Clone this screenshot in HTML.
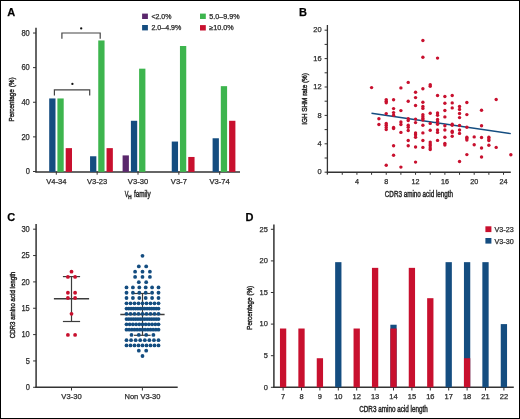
<!DOCTYPE html>
<html><head><meta charset="utf-8"><style>
html,body{margin:0;padding:0;background:#fff;}
body{width:520px;height:419px;overflow:hidden;}
svg{display:block;font-family:"Liberation Sans",sans-serif;}
text{stroke:#2a2a2a;stroke-width:0.25px;paint-order:stroke;}
.t{stroke-width:0.45px;}
svg{will-change:transform;}
</style></head><body>
<svg width="520" height="419" viewBox="0 0 520 419">
<rect x="0" y="0" width="520" height="419" fill="#fff"/>
<text x="7.20" y="16.30" font-size="11" text-anchor="start" font-weight="bold" fill="#000">A</text>
<line x1="36.00" y1="27.70" x2="36.00" y2="172.20" stroke="#333333" stroke-width="1.5"/>
<line x1="33.00" y1="171.50" x2="36.00" y2="171.50" stroke="#333333" stroke-width="1.0"/>
<text x="29.80" y="174.30" font-size="8.2" text-anchor="end" font-weight="normal" fill="#2a2a2a" textLength="4.17" lengthAdjust="spacingAndGlyphs">0</text>
<line x1="33.00" y1="136.88" x2="36.00" y2="136.88" stroke="#333333" stroke-width="1.0"/>
<text x="29.80" y="139.68" font-size="8.2" text-anchor="end" font-weight="normal" fill="#2a2a2a" textLength="8.35" lengthAdjust="spacingAndGlyphs">20</text>
<line x1="33.00" y1="102.26" x2="36.00" y2="102.26" stroke="#333333" stroke-width="1.0"/>
<text x="29.80" y="105.06" font-size="8.2" text-anchor="end" font-weight="normal" fill="#2a2a2a" textLength="8.35" lengthAdjust="spacingAndGlyphs">40</text>
<line x1="33.00" y1="67.64" x2="36.00" y2="67.64" stroke="#333333" stroke-width="1.0"/>
<text x="29.80" y="70.44" font-size="8.2" text-anchor="end" font-weight="normal" fill="#2a2a2a" textLength="8.35" lengthAdjust="spacingAndGlyphs">60</text>
<line x1="33.00" y1="33.02" x2="36.00" y2="33.02" stroke="#333333" stroke-width="1.0"/>
<text x="29.80" y="35.82" font-size="8.2" text-anchor="end" font-weight="normal" fill="#2a2a2a" textLength="8.35" lengthAdjust="spacingAndGlyphs">80</text>
<line x1="35.30" y1="171.90" x2="240.00" y2="171.90" stroke="#333333" stroke-width="1.5"/>
<rect x="49.20" y="98.45" width="6.30" height="73.45" fill="#144d80"/>
<rect x="57.40" y="98.45" width="6.30" height="73.45" fill="#3db54e"/>
<rect x="65.70" y="148.13" width="6.30" height="23.77" fill="#c8102e"/>
<line x1="56.30" y1="171.50" x2="56.30" y2="174.70" stroke="#333333" stroke-width="1.0"/>
<text x="56.30" y="184.40" font-size="7.6" text-anchor="middle" font-weight="normal" fill="#2a2a2a" textLength="20.28" lengthAdjust="spacingAndGlyphs">V4-34</text>
<rect x="90.05" y="156.27" width="6.30" height="15.63" fill="#144d80"/>
<rect x="98.25" y="40.46" width="6.30" height="131.44" fill="#3db54e"/>
<rect x="106.55" y="148.13" width="6.30" height="23.77" fill="#c8102e"/>
<line x1="97.15" y1="171.50" x2="97.15" y2="174.70" stroke="#333333" stroke-width="1.0"/>
<text x="97.15" y="184.40" font-size="7.6" text-anchor="middle" font-weight="normal" fill="#2a2a2a" textLength="20.28" lengthAdjust="spacingAndGlyphs">V3-23</text>
<rect x="122.60" y="155.40" width="6.30" height="16.50" fill="#5a276c"/>
<rect x="130.90" y="120.78" width="6.30" height="51.12" fill="#144d80"/>
<rect x="139.10" y="68.68" width="6.30" height="103.22" fill="#3db54e"/>
<line x1="138.00" y1="171.50" x2="138.00" y2="174.70" stroke="#333333" stroke-width="1.0"/>
<text x="138.00" y="184.40" font-size="7.6" text-anchor="middle" font-weight="normal" fill="#2a2a2a" textLength="20.28" lengthAdjust="spacingAndGlyphs">V3-30</text>
<rect x="171.75" y="141.55" width="6.30" height="30.35" fill="#144d80"/>
<rect x="179.95" y="46.00" width="6.30" height="125.90" fill="#3db54e"/>
<rect x="188.25" y="156.96" width="6.30" height="14.94" fill="#c8102e"/>
<line x1="178.85" y1="171.50" x2="178.85" y2="174.70" stroke="#333333" stroke-width="1.0"/>
<text x="178.85" y="184.40" font-size="7.6" text-anchor="middle" font-weight="normal" fill="#2a2a2a" textLength="16.05" lengthAdjust="spacingAndGlyphs">V3-7</text>
<rect x="212.60" y="138.26" width="6.30" height="33.64" fill="#144d80"/>
<rect x="220.80" y="86.16" width="6.30" height="85.74" fill="#3db54e"/>
<rect x="229.10" y="120.78" width="6.30" height="51.12" fill="#c8102e"/>
<line x1="219.70" y1="171.50" x2="219.70" y2="174.70" stroke="#333333" stroke-width="1.0"/>
<text x="219.70" y="184.40" font-size="7.6" text-anchor="middle" font-weight="normal" fill="#2a2a2a" textLength="20.28" lengthAdjust="spacingAndGlyphs">V3-74</text>
<path d="M61.90,38.80 V33.00 H100.20 V38.80" fill="none" stroke="#444" stroke-width="1.2"/>
<path d="M54.40,95.40 V89.90 H89.70 V95.40" fill="none" stroke="#444" stroke-width="1.2"/>
<circle cx="81.20" cy="28.40" r="1.15" fill="#111"/>
<circle cx="72.40" cy="83.90" r="1.15" fill="#111"/>
<text class="t" transform="translate(14.30,99.50) rotate(-90)" x="0" y="0" font-size="7.6" text-anchor="middle" fill="#2a2a2a" textLength="44.00" lengthAdjust="spacingAndGlyphs">Percentage (%)</text>
<text x="124.80" y="197.10" font-size="8.6" text-anchor="start" font-weight="normal" fill="#2a2a2a" textLength="3.70" lengthAdjust="spacingAndGlyphs" class="t">V</text>
<text x="128.30" y="199.00" font-size="5" text-anchor="start" font-weight="normal" fill="#2a2a2a" textLength="3.30" lengthAdjust="spacingAndGlyphs" class="t">H</text>
<text x="134.00" y="197.10" font-size="8.6" text-anchor="start" font-weight="normal" fill="#2a2a2a" textLength="16.60" lengthAdjust="spacingAndGlyphs" class="t">family</text>
<rect x="142.10" y="13.60" width="5.80" height="5.40" fill="#5a276c"/>
<text x="151.40" y="18.70" font-size="6.8" text-anchor="start" font-weight="normal" fill="#2a2a2a" textLength="20.00" lengthAdjust="spacingAndGlyphs">&lt;2.0%</text>
<rect x="142.10" y="25.00" width="5.80" height="5.40" fill="#144d80"/>
<text x="151.40" y="30.10" font-size="6.8" text-anchor="start" font-weight="normal" fill="#2a2a2a" textLength="30.00" lengthAdjust="spacingAndGlyphs">2.0–4.9%</text>
<rect x="200.00" y="13.60" width="5.80" height="5.40" fill="#3db54e"/>
<text x="209.30" y="18.70" font-size="6.8" text-anchor="start" font-weight="normal" fill="#2a2a2a" textLength="30.40" lengthAdjust="spacingAndGlyphs">5.0–9.9%</text>
<rect x="200.00" y="25.10" width="5.80" height="5.40" fill="#c8102e"/>
<text x="209.30" y="30.20" font-size="6.8" text-anchor="start" font-weight="normal" fill="#2a2a2a" textLength="24.50" lengthAdjust="spacingAndGlyphs">≥10.0%</text>
<text x="299.00" y="16.30" font-size="11" text-anchor="start" font-weight="bold" fill="#000">B</text>
<line x1="327.40" y1="25.00" x2="327.40" y2="174.60" stroke="#333333" stroke-width="1.3"/>
<line x1="324.60" y1="172.20" x2="327.60" y2="172.20" stroke="#333333" stroke-width="1.0"/>
<text x="321.60" y="174.30" font-size="7.8" text-anchor="end" font-weight="normal" fill="#2a2a2a" textLength="4.16" lengthAdjust="spacingAndGlyphs">0</text>
<line x1="324.60" y1="158.00" x2="327.60" y2="158.00" stroke="#333333" stroke-width="1.0"/>
<line x1="324.60" y1="143.80" x2="327.60" y2="143.80" stroke="#333333" stroke-width="1.0"/>
<text x="321.60" y="145.90" font-size="7.8" text-anchor="end" font-weight="normal" fill="#2a2a2a" textLength="4.16" lengthAdjust="spacingAndGlyphs">4</text>
<line x1="324.60" y1="129.60" x2="327.60" y2="129.60" stroke="#333333" stroke-width="1.0"/>
<line x1="324.60" y1="115.40" x2="327.60" y2="115.40" stroke="#333333" stroke-width="1.0"/>
<text x="321.60" y="117.50" font-size="7.8" text-anchor="end" font-weight="normal" fill="#2a2a2a" textLength="4.16" lengthAdjust="spacingAndGlyphs">8</text>
<line x1="324.60" y1="101.20" x2="327.60" y2="101.20" stroke="#333333" stroke-width="1.0"/>
<line x1="324.60" y1="87.00" x2="327.60" y2="87.00" stroke="#333333" stroke-width="1.0"/>
<text x="321.60" y="89.10" font-size="7.8" text-anchor="end" font-weight="normal" fill="#2a2a2a" textLength="8.33" lengthAdjust="spacingAndGlyphs">12</text>
<line x1="324.60" y1="72.80" x2="327.60" y2="72.80" stroke="#333333" stroke-width="1.0"/>
<line x1="324.60" y1="58.60" x2="327.60" y2="58.60" stroke="#333333" stroke-width="1.0"/>
<text x="321.60" y="60.70" font-size="7.8" text-anchor="end" font-weight="normal" fill="#2a2a2a" textLength="8.33" lengthAdjust="spacingAndGlyphs">16</text>
<line x1="324.60" y1="44.40" x2="327.60" y2="44.40" stroke="#333333" stroke-width="1.0"/>
<line x1="324.60" y1="30.20" x2="327.60" y2="30.20" stroke="#333333" stroke-width="1.0"/>
<text x="321.60" y="32.30" font-size="7.8" text-anchor="end" font-weight="normal" fill="#2a2a2a" textLength="8.33" lengthAdjust="spacingAndGlyphs">20</text>
<line x1="326.80" y1="172.20" x2="510.80" y2="172.20" stroke="#333333" stroke-width="1.5"/>
<line x1="342.26" y1="172.20" x2="342.26" y2="174.80" stroke="#333333" stroke-width="1.0"/>
<line x1="356.92" y1="172.20" x2="356.92" y2="174.80" stroke="#333333" stroke-width="1.0"/>
<text x="356.92" y="183.90" font-size="7.2" text-anchor="middle" font-weight="normal" fill="#2a2a2a" textLength="4.00" lengthAdjust="spacingAndGlyphs">4</text>
<line x1="371.58" y1="172.20" x2="371.58" y2="174.80" stroke="#333333" stroke-width="1.0"/>
<line x1="386.24" y1="172.20" x2="386.24" y2="174.80" stroke="#333333" stroke-width="1.0"/>
<text x="386.24" y="183.90" font-size="7.2" text-anchor="middle" font-weight="normal" fill="#2a2a2a" textLength="4.00" lengthAdjust="spacingAndGlyphs">8</text>
<line x1="400.90" y1="172.20" x2="400.90" y2="174.80" stroke="#333333" stroke-width="1.0"/>
<line x1="415.56" y1="172.20" x2="415.56" y2="174.80" stroke="#333333" stroke-width="1.0"/>
<text x="415.56" y="183.90" font-size="7.2" text-anchor="middle" font-weight="normal" fill="#2a2a2a" textLength="8.01" lengthAdjust="spacingAndGlyphs">12</text>
<line x1="430.22" y1="172.20" x2="430.22" y2="174.80" stroke="#333333" stroke-width="1.0"/>
<line x1="444.88" y1="172.20" x2="444.88" y2="174.80" stroke="#333333" stroke-width="1.0"/>
<text x="444.88" y="183.90" font-size="7.2" text-anchor="middle" font-weight="normal" fill="#2a2a2a" textLength="8.01" lengthAdjust="spacingAndGlyphs">16</text>
<line x1="459.54" y1="172.20" x2="459.54" y2="174.80" stroke="#333333" stroke-width="1.0"/>
<line x1="474.20" y1="172.20" x2="474.20" y2="174.80" stroke="#333333" stroke-width="1.0"/>
<text x="474.20" y="183.90" font-size="7.2" text-anchor="middle" font-weight="normal" fill="#2a2a2a" textLength="8.01" lengthAdjust="spacingAndGlyphs">20</text>
<line x1="488.86" y1="172.20" x2="488.86" y2="174.80" stroke="#333333" stroke-width="1.0"/>
<line x1="503.52" y1="172.20" x2="503.52" y2="174.80" stroke="#333333" stroke-width="1.0"/>
<text x="503.52" y="183.90" font-size="7.2" text-anchor="middle" font-weight="normal" fill="#2a2a2a" textLength="8.01" lengthAdjust="spacingAndGlyphs">24</text>
<text class="t" transform="translate(307.20,99.00) rotate(-90)" x="0" y="0" font-size="7.4" text-anchor="middle" fill="#2a2a2a" textLength="51.70" lengthAdjust="spacingAndGlyphs">IGH SHM rate (%)</text>
<text x="384.80" y="197.20" font-size="8.6" text-anchor="start" font-weight="normal" fill="#2a2a2a" textLength="68.30" lengthAdjust="spacingAndGlyphs" class="t">CDR3 amino acid length</text>
<line x1="371.50" y1="113.20" x2="510.80" y2="133.60" stroke="#144d80" stroke-width="1.4"/>
<circle cx="371.58" cy="87.60" r="1.7" fill="#c8102e"/>
<circle cx="378.91" cy="118.80" r="1.7" fill="#c8102e"/>
<circle cx="378.91" cy="124.50" r="1.7" fill="#c8102e"/>
<circle cx="386.24" cy="99.60" r="1.7" fill="#c8102e"/>
<circle cx="386.24" cy="101.20" r="1.7" fill="#c8102e"/>
<circle cx="386.24" cy="102.70" r="1.7" fill="#c8102e"/>
<circle cx="386.24" cy="113.60" r="1.7" fill="#c8102e"/>
<circle cx="386.24" cy="123.40" r="1.7" fill="#c8102e"/>
<circle cx="386.24" cy="125.30" r="1.7" fill="#c8102e"/>
<circle cx="386.24" cy="127.40" r="1.7" fill="#c8102e"/>
<circle cx="386.24" cy="129.60" r="1.7" fill="#c8102e"/>
<circle cx="386.24" cy="165.20" r="1.7" fill="#c8102e"/>
<circle cx="393.57" cy="99.80" r="1.7" fill="#c8102e"/>
<circle cx="393.57" cy="108.60" r="1.7" fill="#c8102e"/>
<circle cx="393.57" cy="112.60" r="1.7" fill="#c8102e"/>
<circle cx="393.57" cy="115.30" r="1.7" fill="#c8102e"/>
<circle cx="393.57" cy="127.40" r="1.7" fill="#c8102e"/>
<circle cx="393.57" cy="128.60" r="1.7" fill="#c8102e"/>
<circle cx="393.57" cy="145.70" r="1.7" fill="#c8102e"/>
<circle cx="393.57" cy="155.30" r="1.7" fill="#c8102e"/>
<circle cx="400.90" cy="87.90" r="1.7" fill="#c8102e"/>
<circle cx="400.90" cy="110.60" r="1.7" fill="#c8102e"/>
<circle cx="400.90" cy="121.90" r="1.7" fill="#c8102e"/>
<circle cx="400.90" cy="124.50" r="1.7" fill="#c8102e"/>
<circle cx="400.90" cy="132.40" r="1.7" fill="#c8102e"/>
<circle cx="400.90" cy="167.10" r="1.7" fill="#c8102e"/>
<circle cx="408.23" cy="82.40" r="1.7" fill="#c8102e"/>
<circle cx="408.23" cy="101.30" r="1.7" fill="#c8102e"/>
<circle cx="408.23" cy="118.60" r="1.7" fill="#c8102e"/>
<circle cx="408.23" cy="120.50" r="1.7" fill="#c8102e"/>
<circle cx="408.23" cy="125.30" r="1.7" fill="#c8102e"/>
<circle cx="408.23" cy="127.20" r="1.7" fill="#c8102e"/>
<circle cx="408.23" cy="130.50" r="1.7" fill="#c8102e"/>
<circle cx="408.23" cy="140.50" r="1.7" fill="#c8102e"/>
<circle cx="408.23" cy="145.70" r="1.7" fill="#c8102e"/>
<circle cx="415.56" cy="92.20" r="1.7" fill="#c8102e"/>
<circle cx="415.56" cy="97.60" r="1.7" fill="#c8102e"/>
<circle cx="415.56" cy="105.50" r="1.7" fill="#c8102e"/>
<circle cx="415.56" cy="119.10" r="1.7" fill="#c8102e"/>
<circle cx="415.56" cy="122.60" r="1.7" fill="#c8102e"/>
<circle cx="415.56" cy="132.90" r="1.7" fill="#c8102e"/>
<circle cx="415.56" cy="134.80" r="1.7" fill="#c8102e"/>
<circle cx="415.56" cy="137.20" r="1.7" fill="#c8102e"/>
<circle cx="415.56" cy="147.00" r="1.7" fill="#c8102e"/>
<circle cx="415.56" cy="162.10" r="1.7" fill="#c8102e"/>
<circle cx="422.89" cy="40.50" r="1.7" fill="#c8102e"/>
<circle cx="422.89" cy="57.20" r="1.7" fill="#c8102e"/>
<circle cx="422.89" cy="88.80" r="1.7" fill="#c8102e"/>
<circle cx="422.89" cy="102.20" r="1.7" fill="#c8102e"/>
<circle cx="422.89" cy="106.50" r="1.7" fill="#c8102e"/>
<circle cx="422.89" cy="108.40" r="1.7" fill="#c8102e"/>
<circle cx="422.89" cy="114.70" r="1.7" fill="#c8102e"/>
<circle cx="422.89" cy="116.70" r="1.7" fill="#c8102e"/>
<circle cx="422.89" cy="118.60" r="1.7" fill="#c8102e"/>
<circle cx="422.89" cy="120.00" r="1.7" fill="#c8102e"/>
<circle cx="422.89" cy="125.30" r="1.7" fill="#c8102e"/>
<circle cx="422.89" cy="132.90" r="1.7" fill="#c8102e"/>
<circle cx="422.89" cy="140.50" r="1.7" fill="#c8102e"/>
<circle cx="422.89" cy="147.40" r="1.7" fill="#c8102e"/>
<circle cx="430.22" cy="84.80" r="1.7" fill="#c8102e"/>
<circle cx="430.22" cy="86.20" r="1.7" fill="#c8102e"/>
<circle cx="430.22" cy="113.20" r="1.7" fill="#c8102e"/>
<circle cx="430.22" cy="123.40" r="1.7" fill="#c8102e"/>
<circle cx="430.22" cy="130.20" r="1.7" fill="#c8102e"/>
<circle cx="430.22" cy="142.10" r="1.7" fill="#c8102e"/>
<circle cx="430.22" cy="143.90" r="1.7" fill="#c8102e"/>
<circle cx="430.22" cy="145.80" r="1.7" fill="#c8102e"/>
<circle cx="430.22" cy="147.90" r="1.7" fill="#c8102e"/>
<circle cx="430.22" cy="149.60" r="1.7" fill="#c8102e"/>
<circle cx="437.55" cy="58.10" r="1.7" fill="#c8102e"/>
<circle cx="437.55" cy="95.50" r="1.7" fill="#c8102e"/>
<circle cx="437.55" cy="113.00" r="1.7" fill="#c8102e"/>
<circle cx="437.55" cy="115.30" r="1.7" fill="#c8102e"/>
<circle cx="437.55" cy="119.50" r="1.7" fill="#c8102e"/>
<circle cx="437.55" cy="121.50" r="1.7" fill="#c8102e"/>
<circle cx="437.55" cy="124.30" r="1.7" fill="#c8102e"/>
<circle cx="437.55" cy="130.00" r="1.7" fill="#c8102e"/>
<circle cx="437.55" cy="132.40" r="1.7" fill="#c8102e"/>
<circle cx="437.55" cy="140.40" r="1.7" fill="#c8102e"/>
<circle cx="444.88" cy="96.50" r="1.7" fill="#c8102e"/>
<circle cx="444.88" cy="103.20" r="1.7" fill="#c8102e"/>
<circle cx="444.88" cy="110.50" r="1.7" fill="#c8102e"/>
<circle cx="444.88" cy="116.90" r="1.7" fill="#c8102e"/>
<circle cx="444.88" cy="125.80" r="1.7" fill="#c8102e"/>
<circle cx="444.88" cy="130.00" r="1.7" fill="#c8102e"/>
<circle cx="444.88" cy="137.20" r="1.7" fill="#c8102e"/>
<circle cx="444.88" cy="143.50" r="1.7" fill="#c8102e"/>
<circle cx="444.88" cy="145.00" r="1.7" fill="#c8102e"/>
<circle cx="452.21" cy="95.50" r="1.7" fill="#c8102e"/>
<circle cx="452.21" cy="102.90" r="1.7" fill="#c8102e"/>
<circle cx="452.21" cy="107.90" r="1.7" fill="#c8102e"/>
<circle cx="452.21" cy="124.30" r="1.7" fill="#c8102e"/>
<circle cx="452.21" cy="125.30" r="1.7" fill="#c8102e"/>
<circle cx="452.21" cy="131.20" r="1.7" fill="#c8102e"/>
<circle cx="452.21" cy="132.40" r="1.7" fill="#c8102e"/>
<circle cx="452.21" cy="136.30" r="1.7" fill="#c8102e"/>
<circle cx="459.54" cy="106.50" r="1.7" fill="#c8102e"/>
<circle cx="459.54" cy="109.40" r="1.7" fill="#c8102e"/>
<circle cx="459.54" cy="113.50" r="1.7" fill="#c8102e"/>
<circle cx="459.54" cy="117.60" r="1.7" fill="#c8102e"/>
<circle cx="459.54" cy="125.50" r="1.7" fill="#c8102e"/>
<circle cx="459.54" cy="130.00" r="1.7" fill="#c8102e"/>
<circle cx="459.54" cy="133.40" r="1.7" fill="#c8102e"/>
<circle cx="459.54" cy="161.50" r="1.7" fill="#c8102e"/>
<circle cx="466.87" cy="102.50" r="1.7" fill="#c8102e"/>
<circle cx="466.87" cy="114.60" r="1.7" fill="#c8102e"/>
<circle cx="466.87" cy="127.20" r="1.7" fill="#c8102e"/>
<circle cx="466.87" cy="137.20" r="1.7" fill="#c8102e"/>
<circle cx="466.87" cy="138.60" r="1.7" fill="#c8102e"/>
<circle cx="466.87" cy="140.10" r="1.7" fill="#c8102e"/>
<circle cx="466.87" cy="154.60" r="1.7" fill="#c8102e"/>
<circle cx="474.20" cy="136.90" r="1.7" fill="#c8102e"/>
<circle cx="474.20" cy="144.80" r="1.7" fill="#c8102e"/>
<circle cx="481.53" cy="110.30" r="1.7" fill="#c8102e"/>
<circle cx="481.53" cy="125.80" r="1.7" fill="#c8102e"/>
<circle cx="481.53" cy="137.50" r="1.7" fill="#c8102e"/>
<circle cx="481.53" cy="148.00" r="1.7" fill="#c8102e"/>
<circle cx="481.53" cy="157.00" r="1.7" fill="#c8102e"/>
<circle cx="488.86" cy="137.20" r="1.7" fill="#c8102e"/>
<circle cx="488.86" cy="138.90" r="1.7" fill="#c8102e"/>
<circle cx="488.86" cy="140.50" r="1.7" fill="#c8102e"/>
<circle cx="488.86" cy="145.30" r="1.7" fill="#c8102e"/>
<circle cx="496.19" cy="99.50" r="1.7" fill="#c8102e"/>
<circle cx="496.19" cy="147.40" r="1.7" fill="#c8102e"/>
<circle cx="510.85" cy="154.80" r="1.7" fill="#c8102e"/>
<text x="7.20" y="220.60" font-size="11" text-anchor="start" font-weight="bold" fill="#000">C</text>
<line x1="36.10" y1="224.10" x2="36.10" y2="388.00" stroke="#333333" stroke-width="1.5"/>
<line x1="33.10" y1="387.30" x2="36.10" y2="387.30" stroke="#333333" stroke-width="1.0"/>
<text x="29.80" y="390.10" font-size="8.2" text-anchor="end" font-weight="normal" fill="#2a2a2a" textLength="4.17" lengthAdjust="spacingAndGlyphs">0</text>
<line x1="33.10" y1="360.95" x2="36.10" y2="360.95" stroke="#333333" stroke-width="1.0"/>
<text x="29.80" y="363.75" font-size="8.2" text-anchor="end" font-weight="normal" fill="#2a2a2a" textLength="4.17" lengthAdjust="spacingAndGlyphs">5</text>
<line x1="33.10" y1="334.60" x2="36.10" y2="334.60" stroke="#333333" stroke-width="1.0"/>
<text x="29.80" y="337.40" font-size="8.2" text-anchor="end" font-weight="normal" fill="#2a2a2a" textLength="8.35" lengthAdjust="spacingAndGlyphs">10</text>
<line x1="33.10" y1="308.25" x2="36.10" y2="308.25" stroke="#333333" stroke-width="1.0"/>
<text x="29.80" y="311.05" font-size="8.2" text-anchor="end" font-weight="normal" fill="#2a2a2a" textLength="8.35" lengthAdjust="spacingAndGlyphs">15</text>
<line x1="33.10" y1="281.90" x2="36.10" y2="281.90" stroke="#333333" stroke-width="1.0"/>
<text x="29.80" y="284.70" font-size="8.2" text-anchor="end" font-weight="normal" fill="#2a2a2a" textLength="8.35" lengthAdjust="spacingAndGlyphs">20</text>
<line x1="33.10" y1="255.55" x2="36.10" y2="255.55" stroke="#333333" stroke-width="1.0"/>
<text x="29.80" y="258.35" font-size="8.2" text-anchor="end" font-weight="normal" fill="#2a2a2a" textLength="8.35" lengthAdjust="spacingAndGlyphs">25</text>
<line x1="33.10" y1="229.20" x2="36.10" y2="229.20" stroke="#333333" stroke-width="1.0"/>
<text x="29.80" y="232.00" font-size="8.2" text-anchor="end" font-weight="normal" fill="#2a2a2a" textLength="8.35" lengthAdjust="spacingAndGlyphs">30</text>
<line x1="35.40" y1="387.30" x2="177.70" y2="387.30" stroke="#333333" stroke-width="1.5"/>
<line x1="71.50" y1="387.30" x2="71.50" y2="390.50" stroke="#333333" stroke-width="1.0"/>
<line x1="142.40" y1="387.30" x2="142.40" y2="390.50" stroke="#333333" stroke-width="1.0"/>
<text x="71.50" y="398.90" font-size="7.6" text-anchor="middle" font-weight="normal" fill="#2a2a2a" textLength="20.28" lengthAdjust="spacingAndGlyphs">V3-30</text>
<text x="142.50" y="398.90" font-size="7.6" text-anchor="middle" font-weight="normal" fill="#2a2a2a" textLength="35.97" lengthAdjust="spacingAndGlyphs">Non V3-30</text>
<text class="t" transform="translate(14.60,305.00) rotate(-90)" x="0" y="0" font-size="7.4" text-anchor="middle" fill="#2a2a2a" textLength="66.50" lengthAdjust="spacingAndGlyphs">CDR3 amino acid length</text>
<line x1="71.50" y1="276.60" x2="71.50" y2="321.50" stroke="#3c3c3c" stroke-width="1.2"/>
<line x1="62.90" y1="276.60" x2="80.10" y2="276.60" stroke="#3c3c3c" stroke-width="1.2"/>
<line x1="62.90" y1="321.50" x2="80.10" y2="321.50" stroke="#3c3c3c" stroke-width="1.2"/>
<line x1="53.90" y1="298.70" x2="89.10" y2="298.70" stroke="#3c3c3c" stroke-width="1.5"/>
<circle cx="71.50" cy="271.66" r="1.9" fill="#c8102e"/>
<circle cx="67.90" cy="276.93" r="1.9" fill="#c8102e"/>
<circle cx="75.10" cy="276.93" r="1.9" fill="#c8102e"/>
<circle cx="67.90" cy="292.74" r="1.9" fill="#c8102e"/>
<circle cx="75.10" cy="292.74" r="1.9" fill="#c8102e"/>
<circle cx="67.90" cy="298.01" r="1.9" fill="#c8102e"/>
<circle cx="75.10" cy="298.01" r="1.9" fill="#c8102e"/>
<circle cx="71.50" cy="313.82" r="1.9" fill="#c8102e"/>
<circle cx="67.90" cy="334.90" r="1.9" fill="#c8102e"/>
<circle cx="75.10" cy="334.90" r="1.9" fill="#c8102e"/>
<line x1="142.50" y1="293.50" x2="142.50" y2="335.30" stroke="#3c3c3c" stroke-width="1.2"/>
<line x1="134.00" y1="293.50" x2="150.60" y2="293.50" stroke="#3c3c3c" stroke-width="1.2"/>
<line x1="134.00" y1="335.30" x2="150.60" y2="335.30" stroke="#3c3c3c" stroke-width="1.2"/>
<line x1="120.30" y1="314.40" x2="164.60" y2="314.40" stroke="#3c3c3c" stroke-width="1.5"/>
<circle cx="142.50" cy="255.85" r="1.9" fill="#144d80"/>
<circle cx="138.80" cy="266.39" r="1.9" fill="#144d80"/>
<circle cx="146.20" cy="266.39" r="1.9" fill="#144d80"/>
<circle cx="135.10" cy="271.66" r="1.9" fill="#144d80"/>
<circle cx="142.50" cy="271.66" r="1.9" fill="#144d80"/>
<circle cx="149.90" cy="271.66" r="1.9" fill="#144d80"/>
<circle cx="135.10" cy="276.93" r="1.9" fill="#144d80"/>
<circle cx="142.50" cy="276.93" r="1.9" fill="#144d80"/>
<circle cx="149.90" cy="276.93" r="1.9" fill="#144d80"/>
<circle cx="138.80" cy="282.20" r="1.9" fill="#144d80"/>
<circle cx="146.20" cy="282.20" r="1.9" fill="#144d80"/>
<circle cx="126.50" cy="287.47" r="1.9" fill="#144d80"/>
<circle cx="132.90" cy="287.47" r="1.9" fill="#144d80"/>
<circle cx="139.30" cy="287.47" r="1.9" fill="#144d80"/>
<circle cx="145.70" cy="287.47" r="1.9" fill="#144d80"/>
<circle cx="152.10" cy="287.47" r="1.9" fill="#144d80"/>
<circle cx="158.50" cy="287.47" r="1.9" fill="#144d80"/>
<circle cx="126.50" cy="292.74" r="1.9" fill="#144d80"/>
<circle cx="132.90" cy="292.74" r="1.9" fill="#144d80"/>
<circle cx="139.30" cy="292.74" r="1.9" fill="#144d80"/>
<circle cx="145.70" cy="292.74" r="1.9" fill="#144d80"/>
<circle cx="152.10" cy="292.74" r="1.9" fill="#144d80"/>
<circle cx="158.50" cy="292.74" r="1.9" fill="#144d80"/>
<circle cx="126.50" cy="298.01" r="1.9" fill="#144d80"/>
<circle cx="132.90" cy="298.01" r="1.9" fill="#144d80"/>
<circle cx="139.30" cy="298.01" r="1.9" fill="#144d80"/>
<circle cx="145.70" cy="298.01" r="1.9" fill="#144d80"/>
<circle cx="152.10" cy="298.01" r="1.9" fill="#144d80"/>
<circle cx="158.50" cy="298.01" r="1.9" fill="#144d80"/>
<circle cx="126.50" cy="303.28" r="1.9" fill="#144d80"/>
<circle cx="130.50" cy="303.28" r="1.9" fill="#144d80"/>
<circle cx="134.50" cy="303.28" r="1.9" fill="#144d80"/>
<circle cx="138.50" cy="303.28" r="1.9" fill="#144d80"/>
<circle cx="142.50" cy="303.28" r="1.9" fill="#144d80"/>
<circle cx="146.50" cy="303.28" r="1.9" fill="#144d80"/>
<circle cx="150.50" cy="303.28" r="1.9" fill="#144d80"/>
<circle cx="154.50" cy="303.28" r="1.9" fill="#144d80"/>
<circle cx="158.50" cy="303.28" r="1.9" fill="#144d80"/>
<circle cx="126.50" cy="308.55" r="1.9" fill="#144d80"/>
<circle cx="128.79" cy="308.55" r="1.9" fill="#144d80"/>
<circle cx="131.07" cy="308.55" r="1.9" fill="#144d80"/>
<circle cx="133.36" cy="308.55" r="1.9" fill="#144d80"/>
<circle cx="135.64" cy="308.55" r="1.9" fill="#144d80"/>
<circle cx="137.93" cy="308.55" r="1.9" fill="#144d80"/>
<circle cx="140.21" cy="308.55" r="1.9" fill="#144d80"/>
<circle cx="142.50" cy="308.55" r="1.9" fill="#144d80"/>
<circle cx="144.79" cy="308.55" r="1.9" fill="#144d80"/>
<circle cx="147.07" cy="308.55" r="1.9" fill="#144d80"/>
<circle cx="149.36" cy="308.55" r="1.9" fill="#144d80"/>
<circle cx="151.64" cy="308.55" r="1.9" fill="#144d80"/>
<circle cx="153.93" cy="308.55" r="1.9" fill="#144d80"/>
<circle cx="156.21" cy="308.55" r="1.9" fill="#144d80"/>
<circle cx="158.50" cy="308.55" r="1.9" fill="#144d80"/>
<circle cx="126.50" cy="313.82" r="1.9" fill="#144d80"/>
<circle cx="130.50" cy="313.82" r="1.9" fill="#144d80"/>
<circle cx="134.50" cy="313.82" r="1.9" fill="#144d80"/>
<circle cx="138.50" cy="313.82" r="1.9" fill="#144d80"/>
<circle cx="142.50" cy="313.82" r="1.9" fill="#144d80"/>
<circle cx="146.50" cy="313.82" r="1.9" fill="#144d80"/>
<circle cx="150.50" cy="313.82" r="1.9" fill="#144d80"/>
<circle cx="154.50" cy="313.82" r="1.9" fill="#144d80"/>
<circle cx="158.50" cy="313.82" r="1.9" fill="#144d80"/>
<circle cx="126.50" cy="319.09" r="1.9" fill="#144d80"/>
<circle cx="128.79" cy="319.09" r="1.9" fill="#144d80"/>
<circle cx="131.07" cy="319.09" r="1.9" fill="#144d80"/>
<circle cx="133.36" cy="319.09" r="1.9" fill="#144d80"/>
<circle cx="135.64" cy="319.09" r="1.9" fill="#144d80"/>
<circle cx="137.93" cy="319.09" r="1.9" fill="#144d80"/>
<circle cx="140.21" cy="319.09" r="1.9" fill="#144d80"/>
<circle cx="142.50" cy="319.09" r="1.9" fill="#144d80"/>
<circle cx="144.79" cy="319.09" r="1.9" fill="#144d80"/>
<circle cx="147.07" cy="319.09" r="1.9" fill="#144d80"/>
<circle cx="149.36" cy="319.09" r="1.9" fill="#144d80"/>
<circle cx="151.64" cy="319.09" r="1.9" fill="#144d80"/>
<circle cx="153.93" cy="319.09" r="1.9" fill="#144d80"/>
<circle cx="156.21" cy="319.09" r="1.9" fill="#144d80"/>
<circle cx="158.50" cy="319.09" r="1.9" fill="#144d80"/>
<circle cx="126.50" cy="324.36" r="1.9" fill="#144d80"/>
<circle cx="129.70" cy="324.36" r="1.9" fill="#144d80"/>
<circle cx="132.90" cy="324.36" r="1.9" fill="#144d80"/>
<circle cx="136.10" cy="324.36" r="1.9" fill="#144d80"/>
<circle cx="139.30" cy="324.36" r="1.9" fill="#144d80"/>
<circle cx="142.50" cy="324.36" r="1.9" fill="#144d80"/>
<circle cx="145.70" cy="324.36" r="1.9" fill="#144d80"/>
<circle cx="148.90" cy="324.36" r="1.9" fill="#144d80"/>
<circle cx="152.10" cy="324.36" r="1.9" fill="#144d80"/>
<circle cx="155.30" cy="324.36" r="1.9" fill="#144d80"/>
<circle cx="158.50" cy="324.36" r="1.9" fill="#144d80"/>
<circle cx="126.50" cy="329.63" r="1.9" fill="#144d80"/>
<circle cx="129.17" cy="329.63" r="1.9" fill="#144d80"/>
<circle cx="131.83" cy="329.63" r="1.9" fill="#144d80"/>
<circle cx="134.50" cy="329.63" r="1.9" fill="#144d80"/>
<circle cx="137.17" cy="329.63" r="1.9" fill="#144d80"/>
<circle cx="139.83" cy="329.63" r="1.9" fill="#144d80"/>
<circle cx="142.50" cy="329.63" r="1.9" fill="#144d80"/>
<circle cx="145.17" cy="329.63" r="1.9" fill="#144d80"/>
<circle cx="147.83" cy="329.63" r="1.9" fill="#144d80"/>
<circle cx="150.50" cy="329.63" r="1.9" fill="#144d80"/>
<circle cx="153.17" cy="329.63" r="1.9" fill="#144d80"/>
<circle cx="155.83" cy="329.63" r="1.9" fill="#144d80"/>
<circle cx="158.50" cy="329.63" r="1.9" fill="#144d80"/>
<circle cx="131.50" cy="334.90" r="1.9" fill="#144d80"/>
<circle cx="138.80" cy="334.90" r="1.9" fill="#144d80"/>
<circle cx="146.20" cy="334.90" r="1.9" fill="#144d80"/>
<circle cx="153.40" cy="334.90" r="1.9" fill="#144d80"/>
<circle cx="126.50" cy="340.17" r="1.9" fill="#144d80"/>
<circle cx="131.07" cy="340.17" r="1.9" fill="#144d80"/>
<circle cx="135.64" cy="340.17" r="1.9" fill="#144d80"/>
<circle cx="140.21" cy="340.17" r="1.9" fill="#144d80"/>
<circle cx="144.79" cy="340.17" r="1.9" fill="#144d80"/>
<circle cx="149.36" cy="340.17" r="1.9" fill="#144d80"/>
<circle cx="153.93" cy="340.17" r="1.9" fill="#144d80"/>
<circle cx="158.50" cy="340.17" r="1.9" fill="#144d80"/>
<circle cx="126.50" cy="345.44" r="1.9" fill="#144d80"/>
<circle cx="130.50" cy="345.44" r="1.9" fill="#144d80"/>
<circle cx="134.50" cy="345.44" r="1.9" fill="#144d80"/>
<circle cx="138.50" cy="345.44" r="1.9" fill="#144d80"/>
<circle cx="142.50" cy="345.44" r="1.9" fill="#144d80"/>
<circle cx="146.50" cy="345.44" r="1.9" fill="#144d80"/>
<circle cx="150.50" cy="345.44" r="1.9" fill="#144d80"/>
<circle cx="154.50" cy="345.44" r="1.9" fill="#144d80"/>
<circle cx="158.50" cy="345.44" r="1.9" fill="#144d80"/>
<circle cx="138.80" cy="350.71" r="1.9" fill="#144d80"/>
<circle cx="146.20" cy="350.71" r="1.9" fill="#144d80"/>
<circle cx="142.50" cy="355.98" r="1.9" fill="#144d80"/>
<text x="245.60" y="220.50" font-size="11" text-anchor="start" font-weight="bold" fill="#000">D</text>
<line x1="273.90" y1="224.50" x2="273.90" y2="388.00" stroke="#333333" stroke-width="1.5"/>
<line x1="270.90" y1="387.30" x2="273.90" y2="387.30" stroke="#333333" stroke-width="1.0"/>
<text x="267.90" y="389.60" font-size="7.8" text-anchor="end" font-weight="normal" fill="#2a2a2a" textLength="4.16" lengthAdjust="spacingAndGlyphs">0</text>
<line x1="270.90" y1="355.70" x2="273.90" y2="355.70" stroke="#333333" stroke-width="1.0"/>
<text x="267.90" y="358.00" font-size="7.8" text-anchor="end" font-weight="normal" fill="#2a2a2a" textLength="4.16" lengthAdjust="spacingAndGlyphs">5</text>
<line x1="270.90" y1="324.10" x2="273.90" y2="324.10" stroke="#333333" stroke-width="1.0"/>
<text x="267.90" y="326.40" font-size="7.8" text-anchor="end" font-weight="normal" fill="#2a2a2a" textLength="8.33" lengthAdjust="spacingAndGlyphs">10</text>
<line x1="270.90" y1="292.50" x2="273.90" y2="292.50" stroke="#333333" stroke-width="1.0"/>
<text x="267.90" y="294.80" font-size="7.8" text-anchor="end" font-weight="normal" fill="#2a2a2a" textLength="8.33" lengthAdjust="spacingAndGlyphs">15</text>
<line x1="270.90" y1="260.90" x2="273.90" y2="260.90" stroke="#333333" stroke-width="1.0"/>
<text x="267.90" y="263.20" font-size="7.8" text-anchor="end" font-weight="normal" fill="#2a2a2a" textLength="8.33" lengthAdjust="spacingAndGlyphs">20</text>
<line x1="270.90" y1="229.30" x2="273.90" y2="229.30" stroke="#333333" stroke-width="1.0"/>
<text x="267.90" y="231.60" font-size="7.8" text-anchor="end" font-weight="normal" fill="#2a2a2a" textLength="8.33" lengthAdjust="spacingAndGlyphs">25</text>
<line x1="273.20" y1="387.30" x2="513.80" y2="387.30" stroke="#333333" stroke-width="1.5"/>
<rect x="279.95" y="328.52" width="6.30" height="58.78" fill="#c8102e"/>
<line x1="283.10" y1="387.30" x2="283.10" y2="390.50" stroke="#333333" stroke-width="1.0"/>
<text x="283.10" y="399.20" font-size="7.5" text-anchor="middle" font-weight="normal" fill="#2a2a2a" textLength="4.17" lengthAdjust="spacingAndGlyphs">7</text>
<rect x="298.35" y="328.52" width="6.30" height="58.78" fill="#c8102e"/>
<line x1="301.50" y1="387.30" x2="301.50" y2="390.50" stroke="#333333" stroke-width="1.0"/>
<text x="301.50" y="399.20" font-size="7.5" text-anchor="middle" font-weight="normal" fill="#2a2a2a" textLength="4.17" lengthAdjust="spacingAndGlyphs">8</text>
<rect x="316.75" y="358.23" width="6.30" height="29.07" fill="#c8102e"/>
<line x1="319.90" y1="387.30" x2="319.90" y2="390.50" stroke="#333333" stroke-width="1.0"/>
<text x="319.90" y="399.20" font-size="7.5" text-anchor="middle" font-weight="normal" fill="#2a2a2a" textLength="4.17" lengthAdjust="spacingAndGlyphs">9</text>
<rect x="335.15" y="262.16" width="6.30" height="125.14" fill="#144d80"/>
<line x1="338.30" y1="387.30" x2="338.30" y2="390.50" stroke="#333333" stroke-width="1.0"/>
<text x="338.30" y="399.20" font-size="7.5" text-anchor="middle" font-weight="normal" fill="#2a2a2a" textLength="8.34" lengthAdjust="spacingAndGlyphs">10</text>
<rect x="353.55" y="328.52" width="6.30" height="58.78" fill="#c8102e"/>
<line x1="356.70" y1="387.30" x2="356.70" y2="390.50" stroke="#333333" stroke-width="1.0"/>
<text x="356.70" y="399.20" font-size="7.5" text-anchor="middle" font-weight="normal" fill="#2a2a2a" textLength="8.34" lengthAdjust="spacingAndGlyphs">12</text>
<rect x="371.95" y="267.85" width="6.30" height="119.45" fill="#c8102e"/>
<line x1="375.10" y1="387.30" x2="375.10" y2="390.50" stroke="#333333" stroke-width="1.0"/>
<text x="375.10" y="399.20" font-size="7.5" text-anchor="middle" font-weight="normal" fill="#2a2a2a" textLength="8.34" lengthAdjust="spacingAndGlyphs">13</text>
<rect x="390.35" y="324.73" width="6.30" height="62.57" fill="#144d80"/>
<rect x="390.35" y="328.52" width="6.30" height="58.78" fill="#c8102e"/>
<line x1="393.50" y1="387.30" x2="393.50" y2="390.50" stroke="#333333" stroke-width="1.0"/>
<text x="393.50" y="399.20" font-size="7.5" text-anchor="middle" font-weight="normal" fill="#2a2a2a" textLength="8.34" lengthAdjust="spacingAndGlyphs">14</text>
<rect x="408.75" y="267.85" width="6.30" height="119.45" fill="#c8102e"/>
<line x1="411.90" y1="387.30" x2="411.90" y2="390.50" stroke="#333333" stroke-width="1.0"/>
<text x="411.90" y="399.20" font-size="7.5" text-anchor="middle" font-weight="normal" fill="#2a2a2a" textLength="8.34" lengthAdjust="spacingAndGlyphs">15</text>
<rect x="427.15" y="298.19" width="6.30" height="89.11" fill="#c8102e"/>
<line x1="430.30" y1="387.30" x2="430.30" y2="390.50" stroke="#333333" stroke-width="1.0"/>
<text x="430.30" y="399.20" font-size="7.5" text-anchor="middle" font-weight="normal" fill="#2a2a2a" textLength="8.34" lengthAdjust="spacingAndGlyphs">16</text>
<rect x="445.55" y="262.16" width="6.30" height="125.14" fill="#144d80"/>
<line x1="448.70" y1="387.30" x2="448.70" y2="390.50" stroke="#333333" stroke-width="1.0"/>
<text x="448.70" y="399.20" font-size="7.5" text-anchor="middle" font-weight="normal" fill="#2a2a2a" textLength="8.34" lengthAdjust="spacingAndGlyphs">17</text>
<rect x="463.95" y="262.16" width="6.30" height="125.14" fill="#144d80"/>
<rect x="463.95" y="358.23" width="6.30" height="29.07" fill="#c8102e"/>
<line x1="467.10" y1="387.30" x2="467.10" y2="390.50" stroke="#333333" stroke-width="1.0"/>
<text x="467.10" y="399.20" font-size="7.5" text-anchor="middle" font-weight="normal" fill="#2a2a2a" textLength="8.34" lengthAdjust="spacingAndGlyphs">18</text>
<rect x="482.35" y="262.16" width="6.30" height="125.14" fill="#144d80"/>
<line x1="485.50" y1="387.30" x2="485.50" y2="390.50" stroke="#333333" stroke-width="1.0"/>
<text x="485.50" y="399.20" font-size="7.5" text-anchor="middle" font-weight="normal" fill="#2a2a2a" textLength="8.34" lengthAdjust="spacingAndGlyphs">21</text>
<rect x="500.75" y="324.10" width="6.30" height="63.20" fill="#144d80"/>
<line x1="503.90" y1="387.30" x2="503.90" y2="390.50" stroke="#333333" stroke-width="1.0"/>
<text x="503.90" y="399.20" font-size="7.5" text-anchor="middle" font-weight="normal" fill="#2a2a2a" textLength="8.34" lengthAdjust="spacingAndGlyphs">22</text>
<text class="t" transform="translate(252.20,307.80) rotate(-90)" x="0" y="0" font-size="7.6" text-anchor="middle" fill="#2a2a2a" textLength="44.00" lengthAdjust="spacingAndGlyphs">Percentage (%)</text>
<text x="359.20" y="411.80" font-size="8.6" text-anchor="start" font-weight="normal" fill="#2a2a2a" textLength="68.60" lengthAdjust="spacingAndGlyphs" class="t">CDR3 amino acid length</text>
<rect x="485.40" y="226.30" width="6.00" height="5.80" fill="#c8102e"/>
<rect x="485.40" y="238.00" width="6.00" height="5.60" fill="#144d80"/>
<text x="494.50" y="231.90" font-size="7.2" text-anchor="start" font-weight="normal" fill="#2a2a2a" textLength="19.20" lengthAdjust="spacingAndGlyphs">V3-23</text>
<text x="494.50" y="243.50" font-size="7.2" text-anchor="start" font-weight="normal" fill="#2a2a2a" textLength="19.20" lengthAdjust="spacingAndGlyphs">V3-30</text>
<rect x="0.5" y="0.5" width="519" height="418" fill="none" stroke="#000" stroke-width="1"/>
</svg>
</body></html>
